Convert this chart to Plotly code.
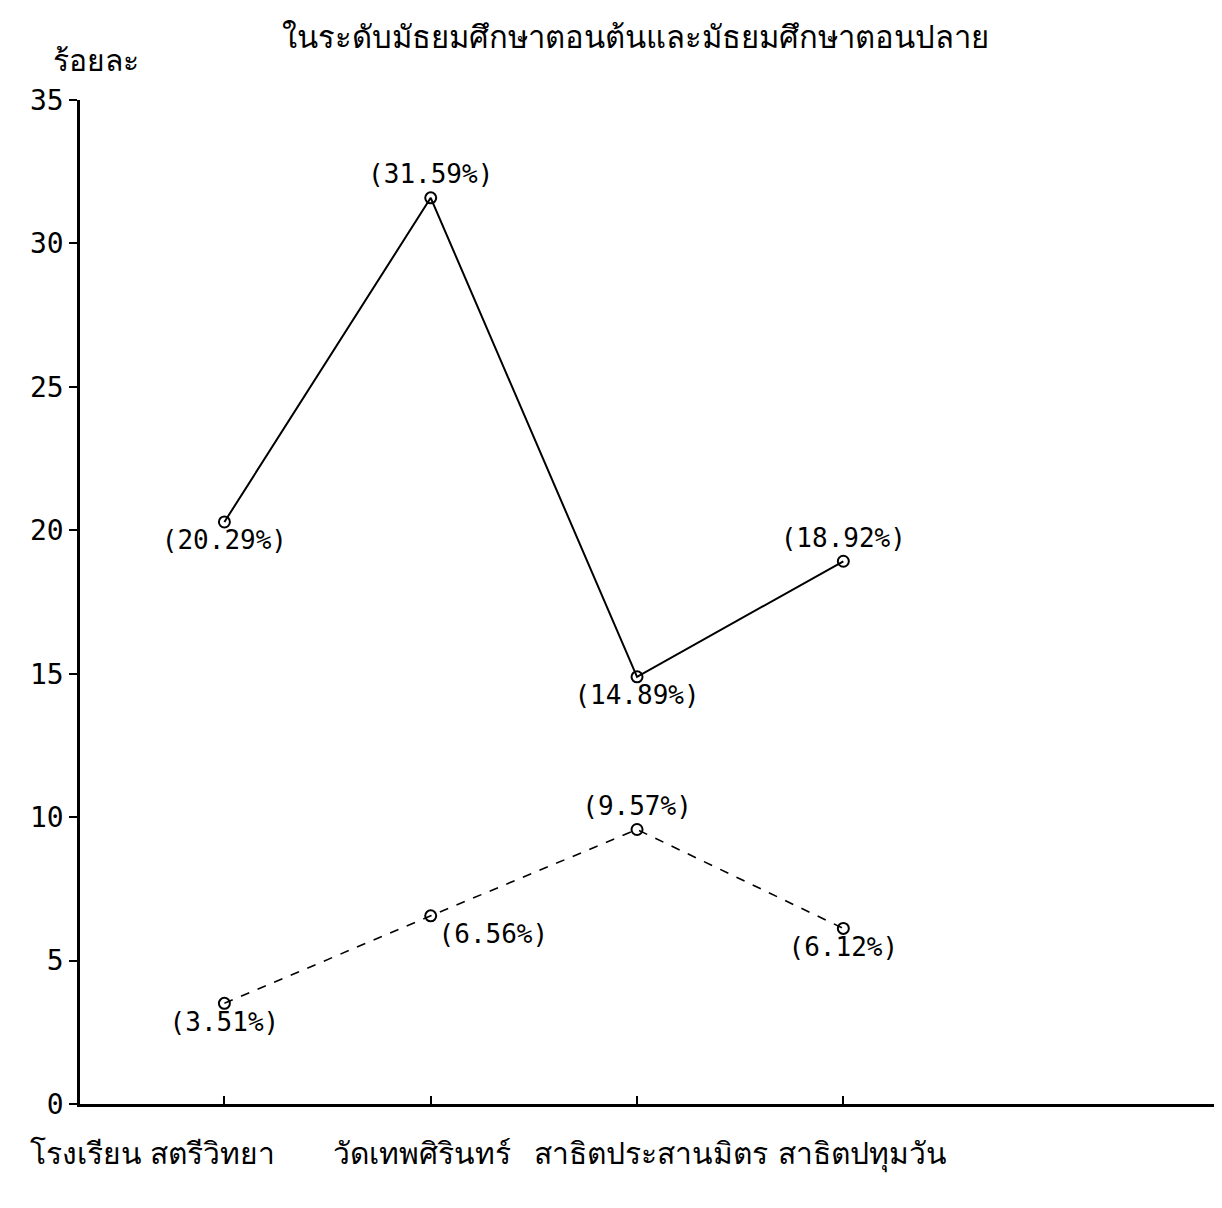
import plotly.graph_objects as go

schools = ["โรงเรียน สตรีวิทยา", "วัดเทพศิรินทร์", "สาธิตประสานมิตร", "สาธิตปทุมวัน"]
series_solid = [20.29, 31.59, 14.89, 18.92]
series_dashed = [3.51, 6.56, 9.57, 6.12]
y_ticks = [0, 5, 10, 15, 20, 25, 30, 35]
title_text = "ในระดับมัธยมศึกษาตอนต้นและมัธยมศึกษาตอนปลาย"
y_title = "ร้อยละ"

FONT = "Noto Sans, DejaVu Sans, sans-serif"
MONO = "DejaVu Sans Mono, Liberation Mono, monospace"

def labels(vals):
    return [f"({v:.2f}%)" for v in vals]

fig = go.Figure()
fig.add_trace(go.Scatter(
    x=schools, y=series_solid, mode="lines+markers+text",
    line=dict(color="black", width=2),
    marker=dict(symbol="circle-open", size=11, color="black", line=dict(width=2)),
    text=labels(series_solid),
    textposition=["bottom center", "top center", "bottom center", "top center"],
    textfont=dict(size=26, color="black", family=MONO),
    showlegend=False, cliponaxis=False,
))
fig.add_trace(go.Scatter(
    x=schools, y=series_dashed, mode="lines+markers+text",
    line=dict(color="black", width=1.6, dash="dash"),
    marker=dict(symbol="circle-open", size=11, color="black", line=dict(width=2)),
    text=labels(series_dashed),
    textposition=["bottom center", "bottom right", "top center", "bottom center"],
    textfont=dict(size=26, color="black", family=MONO),
    showlegend=False, cliponaxis=False,
))

label_shift = [-72, -9, 14, 19]
annotations = [
    dict(text=title_text, xref="paper", yref="paper", x=0.175, y=1.0,
         yshift=64, xanchor="left", yanchor="middle", showarrow=False,
         font=dict(size=31, family=FONT)),
    dict(text=y_title, xref="paper", yref="paper", x=-0.025, y=1.0,
         yshift=18, xanchor="left", yanchor="bottom", showarrow=False,
         font=dict(size=30, family=FONT)),
]
for s, dx in zip(schools, label_shift):
    annotations.append(dict(text=s, x=s, xref="x", yref="paper", y=0,
                            yshift=-26, xshift=dx, xanchor="center", yanchor="top",
                            showarrow=False, font=dict(size=30, family=FONT)))

fig.update_layout(
    width=1222, height=1208,
    paper_bgcolor="white", plot_bgcolor="white",
    margin=dict(l=72, r=5, t=92, b=112),
    font=dict(family=FONT, color="black", size=20),
    annotations=annotations,
)
fig.update_xaxes(
    type="category", range=[-0.7, 4.85],
    showline=True, linecolor="black", linewidth=2.5,
    ticks="inside", ticklen=8, tickcolor="black", tickwidth=2,
    showgrid=False, zeroline=False, showticklabels=False,
)
fig.update_yaxes(
    range=[0, 35], tickvals=y_ticks,
    showline=True, linecolor="black", linewidth=2.5,
    ticks="outside", ticklen=8, tickcolor="black", tickwidth=2,
    showgrid=False, zeroline=False,
    tickfont=dict(size=28, family=MONO),
)

fig.write_html("out.html")
